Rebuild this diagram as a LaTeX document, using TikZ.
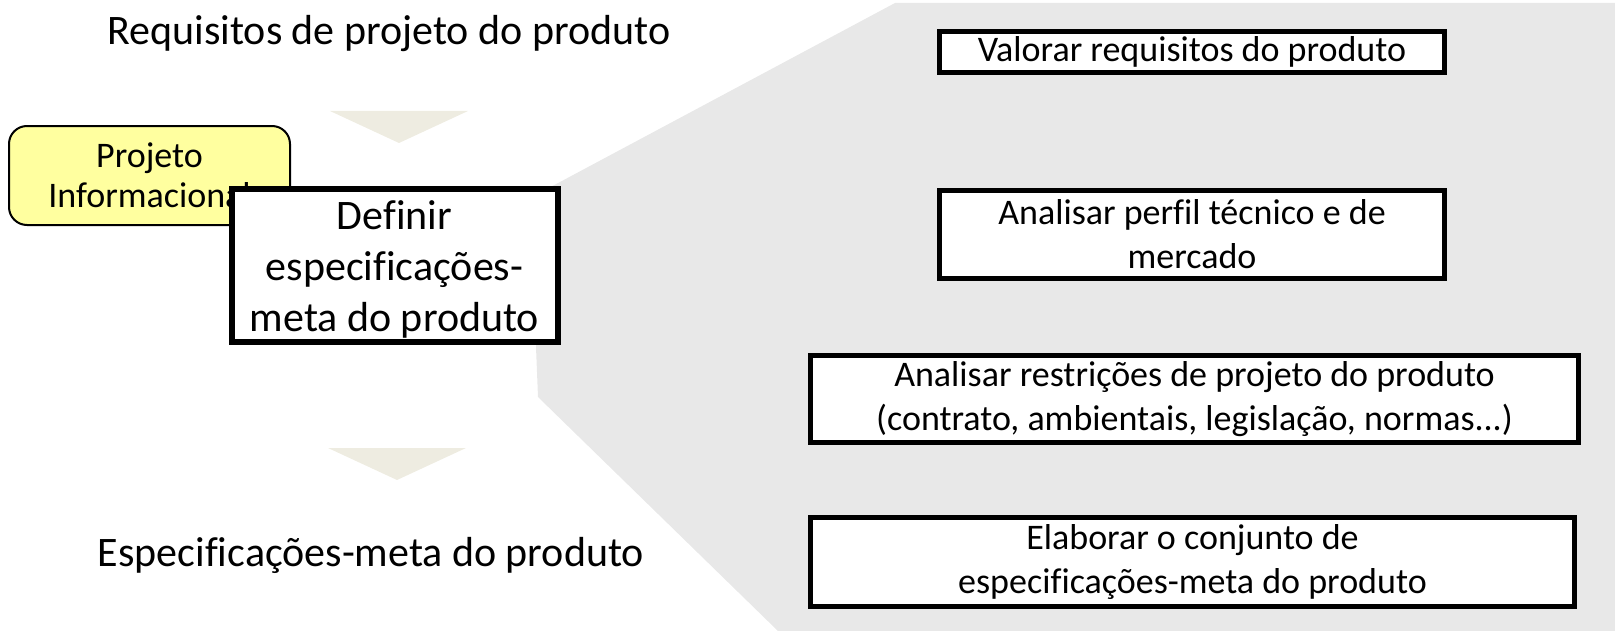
\documentclass[tikz,border=0pt]{standalone}
\usepackage{fontspec}
\setmainfont{Carlito}[Ligatures={NoCommon}]
\definecolor{panelgray}{HTML}{E8E8E8}
\definecolor{arrowbeige}{HTML}{EEECE1}
\definecolor{phaseyellow}{HTML}{FFFF9F}

\begin{document}
\begin{tikzpicture}[x=0.5pt,y=-0.5pt,
  heading/.style={inner sep=0pt,font=\fontsize{21}{25}\selectfont},
  task/.style={draw,line width=2.5pt,fill=white,inner sep=0pt,align=center,
    font=\fontsize{18}{22}\selectfont}]
\useasboundingbox (0,0) rectangle (1615,631);
 % grey panel:
\fill[panelgray] (895,3) -- (1615,3) -- (1615,631) -- (778,631) -- (538,397) -- (536,347) -- (545,190) -- cycle;
 % arrows:
\fill[arrowbeige] (330,111) -- (468,111) -- (399,143) -- cycle;
\fill[arrowbeige] (328,448) -- (466,448) -- (397,480) -- cycle;
 % input and output:
\node[heading,anchor=base] (req) at (389,45) {Requisitos de projeto do produto};
\node[heading,anchor=base] (spec) at (371,566) {Especificações-meta do produto};
 % phase and activity:
\node[draw,line width=1pt,fill=phaseyellow,rounded corners=9pt,inner sep=0pt,align=center,
  minimum width=140.5pt,minimum height=49.5pt,font=\fontsize{18}{20}\selectfont]
  (phase) at (149.5,175.5) {Projeto\\Informacional};
\node[draw,line width=3pt,fill=white,inner sep=0pt,
  minimum width=163pt,minimum height=76.5pt,font=\fontsize{21}{25.5}\selectfont]
  (activity) at (394.5,265) {\raisebox{-2.5pt}[\height][\depth]{\begin{tabular}{@{}c@{}}Definir\\especificações-\\meta do produto\end{tabular}}};
 % tasks:
\node[task,minimum width=252.5pt,minimum height=20.5pt] (t1) at (1192,52) {Valorar requisitos do produto};
\node[task,minimum width=252.5pt,minimum height=44pt] (t2) at (1192,234.5) {Analisar perfil técnico e de\\mercado};
\node[task,minimum width=384pt,minimum height=43.5pt] (t3) at (1194.5,399) {Analisar restrições de projeto do produto\\(contrato, ambientais, legislação, normas...)};
\node[task,minimum width=382pt,minimum height=44.5pt] (t4) at (1192.5,562) {Elaborar o conjunto de\\especificações-meta do produto};
\end{tikzpicture}
\end{document}
